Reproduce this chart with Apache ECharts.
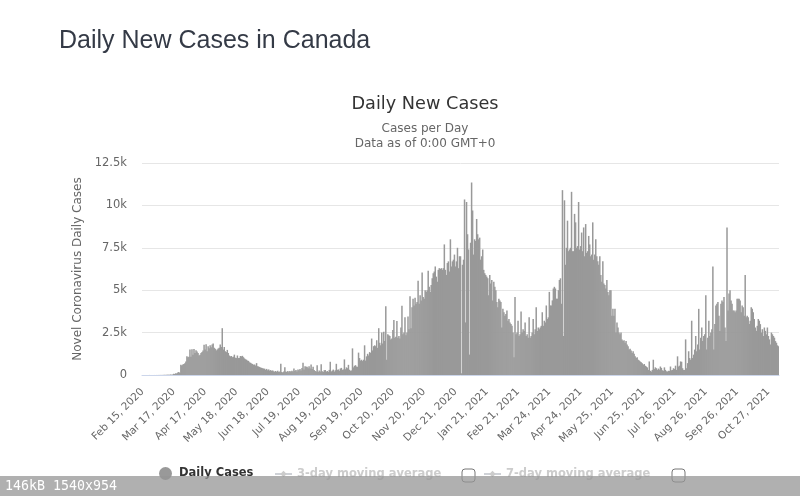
<!DOCTYPE html>
<html>
<head>
<meta charset="utf-8">
<title>Daily New Cases in Canada</title>
<script src="https://cdn.jsdelivr.net/npm/echarts@6/dist/echarts.min.js"></script>
<style>
  html, body { margin: 0; padding: 0; background: #fff; }
  #chart { width: 800px; height: 496px; }
</style>
</head>
<body>
<div id="chart"></div>
<script>
// one value per day from Feb 15, 2020
var dailyCases = [
  0,0,0,0,1,0,0,3,0,1,
  1,1,2,1,3,2,4,5,4,6,
  5,8,12,7,14,16,11,20,25,18,
  30,75,60,110,95,150,170,120,600,560,
  620,650,700,800,1100,1050,1080,1500,1080,1520,
  1200,1540,1300,1460,1380,1300,1150,1200,1300,1350,
  1450,1780,1500,1820,1400,1700,1580,1750,1640,1800,
  1860,1600,1550,1450,1500,1560,1600,1800,1650,2760,
  1500,1650,1400,1350,1480,1300,1150,1100,1120,1050,
  1080,1200,1020,1000,1150,1000,1010,1120,1100,1130,
  1050,980,930,900,850,830,750,720,680,650,
  600,620,560,700,520,500,470,440,420,400,
  380,370,300,360,280,330,260,290,240,270,
  220,190,230,180,250,170,210,660,180,150,
  200,450,210,180,240,160,230,190,250,210,
  380,240,300,200,330,280,350,260,420,720,
  330,520,480,490,400,510,380,620,350,480,
  300,240,200,580,180,260,210,640,220,170,
  280,300,190,240,180,300,780,210,260,320,
  200,280,660,300,330,250,380,420,300,330,
  920,340,450,400,600,310,250,270,1570,450,
  540,580,500,480,1320,1000,850,900,820,900,
  1750,850,1100,1250,1150,1350,1300,2150,1450,1700,
  1750,1700,2050,1600,2760,1900,1750,2500,1850,2550,
  2000,4050,900,2400,2350,2300,2100,2150,2650,3250,
  2200,2250,3180,2200,2300,2150,2800,4080,2400,2500,
  3400,2350,2500,3450,2700,4650,2750,4000,4500,4100,
  4550,4200,4300,5550,4200,4700,4400,6050,4600,4500,
  5000,4900,5000,6150,5200,4900,5300,5700,6000,6100,
  6400,5800,5500,6200,6300,6250,6300,6200,6300,7700,
  6200,5900,6600,6700,6100,8000,6400,6700,6800,7100,
  6400,6700,7500,6300,7000,7000,100,6500,6800,10350,
  3100,10200,8300,7400,1200,7800,11350,9700,7100,8000,
  7900,9200,8300,8000,8100,6800,7000,7400,6200,6000,
  5900,5800,5700,4700,5900,5400,5600,4400,5500,5200,
  5000,4300,4000,4500,4400,4300,2800,3900,3700,3500,
  3600,3800,3200,3300,3100,3000,2900,2500,1050,4600,
  2400,2500,3200,2300,2400,3750,2500,2700,2600,3100,
  2300,2400,2200,3400,2200,2300,2500,3300,2400,2700,
  4000,2600,2800,2700,2800,2900,3700,2900,3200,3100,
  4100,3300,3400,4900,4100,4100,4400,5100,5200,5100,
  4500,4500,5000,5600,5700,4200,10900,2300,10300,6500,
  7500,9100,7300,7400,7500,10800,7300,7300,9500,9000,
  7500,7600,10200,7400,7600,8400,7300,8700,7000,8900,
  7200,7300,8200,7700,7000,7100,9000,6800,7100,8000,
  7000,6700,6500,7000,5900,5500,6700,5400,5300,5100,
  5600,4900,4700,5000,5000,3500,3900,3500,3900,2500,
  3100,2800,2500,2400,2500,2100,2000,2050,1900,2000,
  1800,1700,1500,1550,1450,1300,1400,1250,1100,1000,
  1050,900,850,800,750,700,600,650,550,500,
  450,300,800,250,200,300,900,350,450,400,
  300,380,320,500,420,280,250,450,300,220,
  200,250,240,500,280,300,400,350,550,300,
  1100,500,550,800,780,400,300,300,2100,400,
  700,1400,1000,900,3200,1000,1200,1500,2300,1400,
  1800,3900,1500,2200,2800,2000,2300,2400,4700,1500,
  2200,3200,2300,2500,2700,6400,1500,3000,4100,4200,
  4300,3500,2600,4200,4400,4300,4600,2800,2000,8700,
  3800,4800,5000,4400,4200,3800,3800,3700,3800,4500,
  4500,4500,4400,3700,4100,4000,3500,5900,3400,3500,
  3400,3000,3200,4000,3900,3700,3300,2800,2600,2900,
  3300,3200,3000,2500,2700,2300,2800,2600,2400,2800,
  2300,2100,1800,2500,2400,2300,2200,2000,1900,1750,1700
];

var monthNames = ["Jan","Feb","Mar","Apr","May","Jun","Jul","Aug","Sep","Oct","Nov","Dec"];
var firstDay = Date.UTC(2020, 1, 15);

// one category per day
var categories = [];
for (let i = 0; i < dailyCases.length; i++) {
  let d = new Date(firstDay + i * 86400000);
  categories.push(monthNames[d.getUTCMonth()] + " " + d.getUTCDate() + ", " + d.getUTCFullYear());
}

var chart = echarts.init(document.getElementById("chart"));
var font = "DejaVu Sans";

var option = {
  animation: false,
  backgroundColor: "#fff",
  title: [
    {
      text: "Daily New Cases in Canada", left: 54, top: 24,
      textStyle: { fontFamily: "Liberation Sans", fontSize: 25, fontWeight: "normal", color: "#343a46" }
    },
    {
      text: "Daily New Cases", left: 420, top: 90, textAlign: "center",
      textStyle: { fontFamily: font, fontSize: 17.7, fontWeight: "normal", color: "#333" }
    },
    {
      text: "Cases per Day\nData as of 0:00 GMT+0", left: 420, top: 116, textAlign: "center",
      textStyle: { fontFamily: font, fontSize: 12, fontWeight: "normal", color: "#666", lineHeight: 15 }
    }
  ],
  grid: { left: 142, right: 21, top: 163, bottom: 121 },
  xAxis: {
    type: "category",
    data: categories,
    axisTick: { show: false },
    axisLine: { lineStyle: { color: "#ccd6eb" } },
    axisLabel: {
      interval: 30, rotate: 45, margin: 15,
      fontFamily: font, fontSize: 10.5, color: "#666"
    }
  },
  yAxis: {
    type: "value",
    min: 0,
    max: 12500,
    interval: 2500,
    name: "Novel Coronavirus Daily Cases",
    nameLocation: "middle",
    nameGap: 48,
    nameTextStyle: { fontFamily: font, fontSize: 12, color: "#666" },
    axisLine: { show: false },
    axisTick: { show: false },
    axisLabel: {
      margin: 15, fontFamily: font, fontSize: 11.5, color: "#666",
      formatter: (v) => (v === 0 ? "0" : v / 1000 + "k")
    },
    splitLine: { lineStyle: { color: "#e6e6e6" } }
  },
  legend: [
    {
      data: [{ name: "Daily Cases", icon: "circle" }],
      left: 154, top: 462, itemWidth: 13, itemHeight: 13,
      textStyle: { fontFamily: font, fontSize: 11.5, fontWeight: "bold", color: "#333", padding: [0, 0, 0, 2] }
    },
    {
      data: ["3-day moving average"],
      selected: { "3-day moving average": false },
      left: 269, top: 463, itemWidth: 17, itemHeight: 8,
      inactiveColor: "#ccc", inactiveBorderColor: "#ccc",
      textStyle: { fontFamily: font, fontSize: 11.5, fontWeight: "bold" }
    },
    {
      data: ["7-day moving average"],
      selected: { "7-day moving average": false },
      left: 478, top: 463, itemWidth: 17, itemHeight: 8,
      inactiveColor: "#ccc", inactiveBorderColor: "#ccc",
      textStyle: { fontFamily: font, fontSize: 11.5, fontWeight: "bold" }
    }
  ],
  series: [
    {
      name: "Daily Cases",
      type: "bar",
      data: dailyCases,
      barWidth: 1.5,
      itemStyle: { color: "#999" }
    },
    { name: "3-day moving average", type: "line", data: [], symbol: "diamond", itemStyle: { color: "#ccc" } },
    { name: "7-day moving average", type: "line", data: [], symbol: "diamond", itemStyle: { color: "#ccc" } }
  ],
  graphic: [
    {
      type: "rect", z: 50,
      shape: { x: 462, y: 469, width: 13, height: 13, r: 3 },
      style: { fill: "#fff", stroke: "#777", lineWidth: 1 }
    },
    {
      type: "rect", z: 50,
      shape: { x: 672, y: 469, width: 13, height: 13, r: 3 },
      style: { fill: "#fff", stroke: "#777", lineWidth: 1 }
    },
    // image-host strip over the bottom of the screenshot
    {
      type: "rect", z: 100,
      shape: { x: 0, y: 476, width: 800, height: 20 },
      style: { fill: "rgba(150,150,150,0.75)" }
    },
    {
      type: "text", z: 101, x: 5, y: 480,
      style: { text: "146kB 1540x954", fill: "#fff", font: "13.3px 'DejaVu Sans Mono'" }
    }
  ]
};
chart.setOption(option);
</script>
</body>
</html>
